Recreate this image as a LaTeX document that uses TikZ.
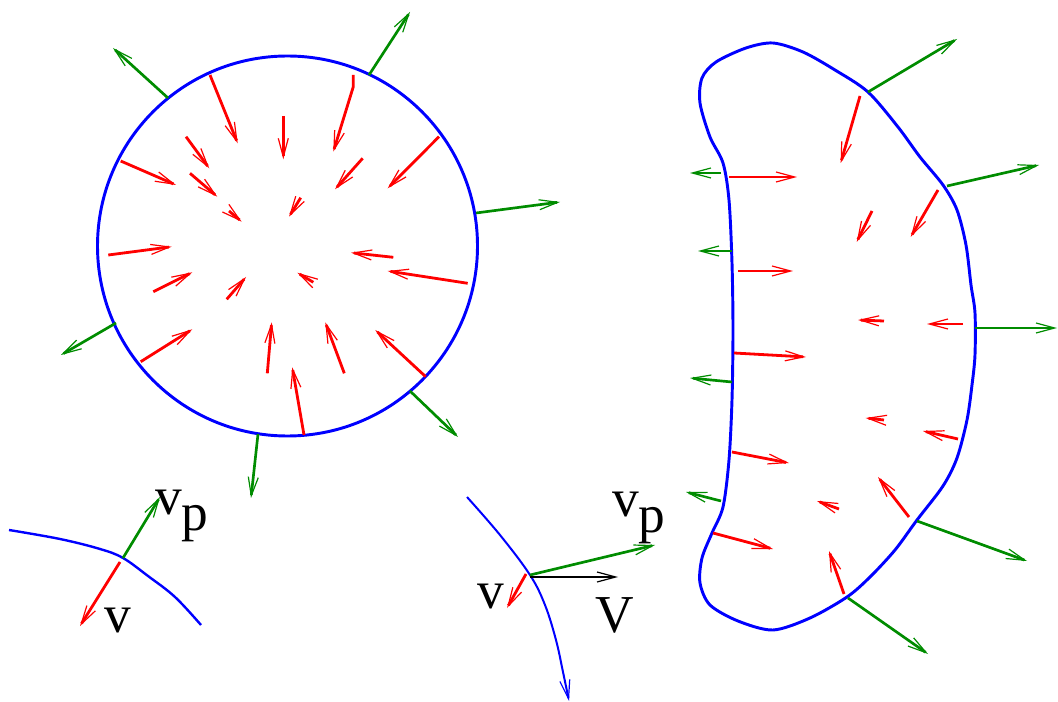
\documentclass[tikz,border=0pt]{standalone}
\usepackage{fontspec}
\setmainfont{Liberation Serif}
\usetikzlibrary{arrows.meta}
\definecolor{fgreen}{RGB}{0,140,0}
\tikzset{
  head/.style={-{Straight Barb[length=14pt,width=7.5pt,line width=0.9pt]}},
  redvec/.style={head,red,line width=2.1pt},
  greenvec/.style={head,fgreen,line width=2pt},
  blackvec/.style={head,black,line width=1.6pt},
  bound/.style={blue,line width=2.2pt},
  lbl/.style={inner sep=0pt,anchor=base west,font=\fontsize{40}{48}\selectfont}
}
\begin{document}
\begin{tikzpicture}[x=0.75pt,y=-0.75pt]
\useasboundingbox (0,0) rectangle (1058,702);

% ---------- circle ----------
\coordinate (cc) at (287.5,246);
\draw[bound] (cc) circle[radius=190];
\foreach \sx/\sy/\ex/\ey in {168/98/113/48, 369/75/410/12, 476/213/560/202,
  116/323/61/355, 410/391/458/437, 258/434/251/498}{
  \draw[greenvec] (\sx,\sy) -- (\ex,\ey);
}
\foreach \sx/\sy/\ex/\ey in {
  210/75/237.7/143.3, 283.3/116/283.3/159.3, 186/136.7/209.3/168.3,
  439/136.7/387.7/188.3, 362.7/158.3/335/189.3, 120.7/161/176/185,
  190/173.3/217.3/196.7, 229/211/241.7/221.7, 300.7/197.7/289/216.7,
  108.3/255/171.7/246.7, 393.3/257.3/351/252.7, 467.7/283.3/387.7/271,
  153.3/291.7/192.3/272.3, 226.7/299.3/246/277, 313.3/282.3/297.3/272.7,
  140.7/361.7/192.3/329.3, 267.3/373.3/271.7/322.3, 344.3/373.3/325.3/322.3,
  425.7/376.7/375.3/330, 304/435/292.3/367.3}{
  \draw[redvec] (\sx,\sy) -- (\ex,\ey);
}
\draw[redvec] (353.3,75) -- (353.3,86.7) -- (333.3,151.7);

% ---------- blob ----------
\draw[bound] plot[smooth cycle, tension=0.5] coordinates {
  (773,43) (803,52) (835,70) (868,92) (898,127) (920,157) (943,185)
  (957,210) (966,245) (971,285) (975,313) (975,355) (972,385) (967,420)
  (957,458) (943,486) (917,520) (895,550) (870,577) (847,597) (810,618)
  (773,630) (738,621) (710,605) (700,583) (702,558) (712,533) (723,507)
  (729,460) (732,400) (733,330) (732,263) (729,200) (723,163) (710,137)
  (700,103) (702,78) (716,62) (746,48)};
\foreach \sx/\sy/\ex/\ey in {868/92/957/39, 947/186/1039/165, 721/173/690/173,
  732/251/698/251, 975/328/1057/328, 732/382/690/378, 721/501/686/492,
  917/521/1027/561, 848/598/928/654}{
  \draw[greenvec] (\sx,\sy) -- (\ex,\ey);
}
\foreach \sx/\sy/\ex/\ey in {860/96/840.7/163, 729/177/797/177, 938/190/910.7/237,
  872/211/856.7/242, 738/271/793/271, 884/321/858/320, 963/324/927/324,
  734/353/806/357, 884/420/865.7/418, 958/439/923/431, 732/452/789/463,
  839/509/817/501, 909/517/878/477, 713/533/773/549, 844/594/829/551}{
  \draw[redvec] (\sx,\sy) -- (\ex,\ey);
}

% ---------- bottom left detail ----------
\coordinate (p1) at (123,558);
\draw[blue,line width=1.8pt] plot[smooth, tension=0.6] coordinates {
  (9,530) (60,539) (100,549) (123,558) (148,576) (175,597) (201,625)};
\draw[greenvec] (p1) -- (160,497);
\draw[redvec] (120,562) -- (80,626);
\node[lbl] (vp1) at (155,515) {v\raisebox{-0.3em}{p}};
\node[lbl] (v1) at (104,632) {v};

% ---------- bottom middle detail ----------
\coordinate (p2) at (530,575);
\draw[blue,line width=1.5pt,head] plot[smooth, tension=0.6] coordinates {
  (467,497) (500,535) (530,575) (545,605) (556,640) (563,672) (569,701)};
\draw[greenvec] (p2) -- (655,545);
\draw[blackvec] (530,577) -- (618,577);
\draw[redvec] (526,574) -- (507,608);
\node[lbl] (vp2) at (612,517) {v\raisebox{-0.3em}{p}};
\node[lbl] (v2) at (477,609) {v};
\node[lbl] (V2) at (595,632) {V};
\end{tikzpicture}
\end{document}
